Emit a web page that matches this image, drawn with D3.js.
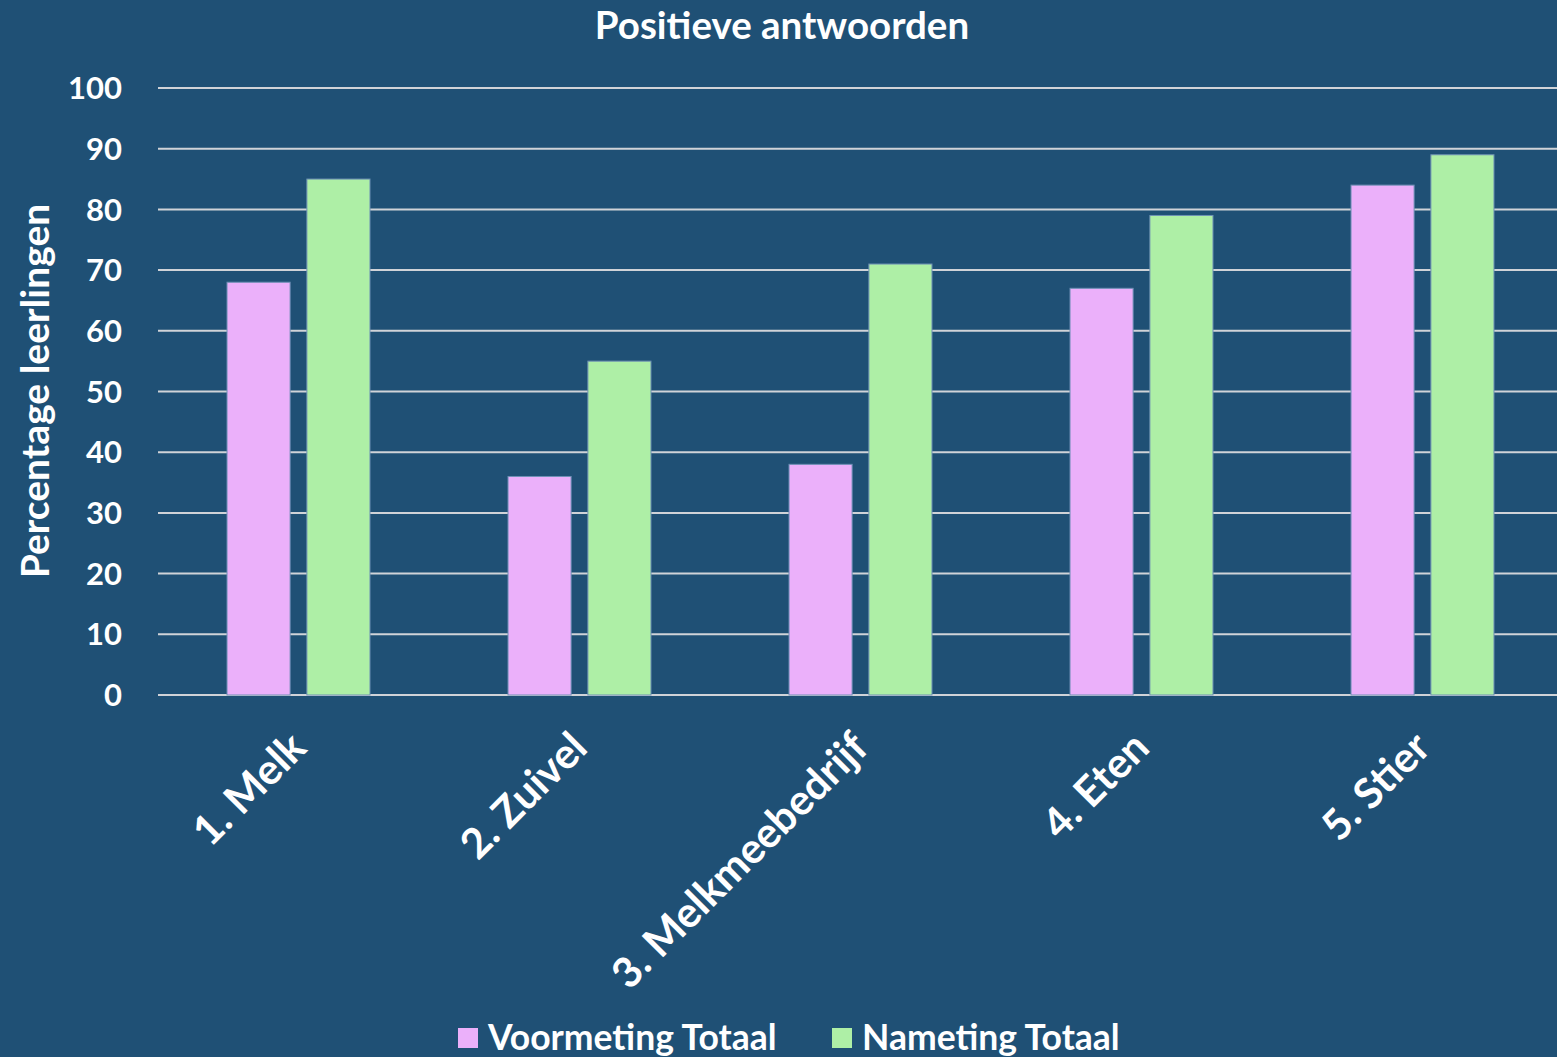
<!DOCTYPE html>
<html><head><meta charset="utf-8">
<script src="https://cdn.jsdelivr.net/npm/d3@7"></script>
<style>
html,body{margin:0;padding:0;background:#1F5075;}
svg{display:block;}
text{font-family:Lato,"Open Sans",sans-serif;font-weight:bold;fill:#fff;}
</style></head><body>
<script>
const categories = ["1. Melk","2. Zuivel","3. Melkmeebedrijf","4. Eten","5. Stier"];
const seriesNames = ["Voormeting Totaal","Nameting Totaal"];
const voormeting = [68,36,38,67,84];
const nameting = [85,55,71,79,89];
const yTicks = [0,10,20,30,40,50,60,70,80,90,100];
const colors = ["#EBB0FA","#AEEFA6"];

(function(){
const W=1557,H=1057;
const svg=d3.select("body").append("svg").attr("width",W).attr("height",H);
svg.append("rect").attr("width",W).attr("height",H).attr("fill","#1F5075");

const mLeft=158,mRight=1557,mTop=88,mBottom=695;
const y=d3.scaleLinear().domain([0,100]).range([mBottom,mTop]);
const x0=d3.scaleBand().domain(categories).range([mLeft,mLeft+281*5]).padding(0);
const bw=x0.bandwidth();
const x1=d3.scaleBand().domain(seriesNames).range([bw*0.2456,bw*0.7544]).paddingInner(0.21);

svg.append("g").selectAll("line").data(yTicks).join("line")
  .attr("x1",mLeft).attr("x2",mRight).attr("y1",d=>y(d)).attr("y2",d=>y(d))
  .attr("stroke","#D0D3D8").attr("stroke-width",2);

svg.append("g").selectAll("text").data(yTicks).join("text")
  .attr("x",122).attr("y",d=>y(d)).attr("dy","0.36em").attr("text-anchor","end")
  .attr("font-size",31).text(d=>d);

const data=categories.map((c,i)=>({c,vals:[voormeting[i],nameting[i]]}));
const g=svg.append("g").selectAll("g").data(data).join("g")
  .attr("transform",d=>`translate(${x0(d.c)},0)`);
g.selectAll("rect").data(d=>d.vals.map((v,j)=>({s:seriesNames[j],v,j}))).join("rect")
  .attr("x",d=>x1(d.s)).attr("width",x1.bandwidth())
  .attr("y",d=>y(d.v)).attr("height",d=>y(0)-y(d.v))
  .attr("fill",d=>colors[d.j]).attr("stroke","#6E90B5").attr("stroke-width",1);

svg.append("g").selectAll("text").data(categories).join("text")
  .attr("transform",d=>`translate(${x0(d)+bw/2+10},${750}) rotate(-45)`)
  .attr("text-anchor","end").attr("font-size",42).text(d=>d);

svg.append("text").attr("x",782).attr("y",39).attr("text-anchor","middle")
  .attr("font-size",38.5).text("Positieve antwoorden");

svg.append("text").attr("transform",`translate(49,391) rotate(-90)`)
  .attr("text-anchor","middle").attr("font-size",39).text("Percentage leerlingen");

const lx=[458,832];
seriesNames.forEach((s,i)=>{
  svg.append("rect").attr("x",lx[i]).attr("y",1028).attr("width",20).attr("height",20).attr("fill",colors[i]);
  svg.append("text").attr("x",lx[i]+30).attr("y",1050).attr("font-size",35.5).text(s);
});
})();
</script>
</body></html>
